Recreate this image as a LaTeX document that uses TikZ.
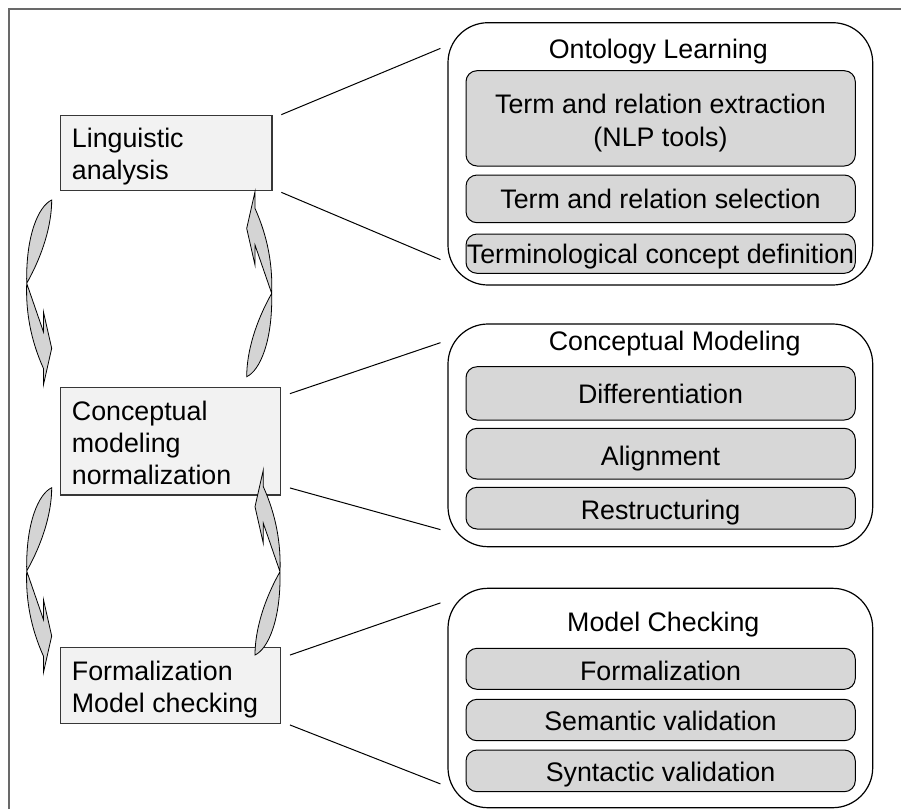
\documentclass[tikz,border=0pt]{standalone}
\usepackage{fontspec}
\setmainfont{Liberation Sans}
\definecolor{framegray}{RGB}{105,105,105}
\definecolor{stagefill}{RGB}{242,242,242}
\definecolor{stageedge}{RGB}{55,55,55}
\definecolor{taskfill}{RGB}{215,215,215}
\definecolor{arrowfill}{RGB}{212,212,212}
\begin{document}
\begin{tikzpicture}[x=1pt,y=-1pt,
  every node/.style={font=\fontsize{26.8}{32}\selectfont},
  stagebox/.style={draw=stageedge, line width=1.3pt, fill=stagefill, inner sep=0pt},
  groupbox/.style={draw=black, line width=1.2pt, fill=white, rounded corners=40pt, inner sep=0pt,
    minimum width=424.7pt},
  taskbox/.style={draw=black, line width=1pt, fill=taskfill, rounded corners=11pt, inner sep=0pt,
    minimum width=389.3pt},
  txt/.style={inner sep=0pt, anchor=base},
  ltxt/.style={inner sep=0pt, anchor=base west},
  conn/.style={draw=black, line width=1pt},
  arrowshape/.style={draw=black, line width=0.8pt, fill=arrowfill, line join=miter},
  bendarrow/.pic={
    \path[arrowshape] (0,0) .. controls (-13,6) and (-26,35) .. (-25,83.3)
      -- (-8.3,131.7) -- (-8.3,111.7) -- (0,148.3) -- (-8.3,185) -- (-8.3,168.3)
      .. controls (-21,140) and (-26,112) .. (-25,83.3)
      .. controls (-9,55) and (0,25) .. (0,0) -- cycle;
  }
]
\useasboundingbox (0,0) rectangle (901,809);

% page frame (top and left edges only)
\draw[framegray, line width=1.8pt] (9.3,809) -- (9.3,9) -- (901,9);

% stages on the left
\node[stagebox, minimum width=211.3pt, minimum height=75.4pt] (ling) at (166.35,153) {};
\node[stagebox, minimum width=219.6pt, minimum height=107.7pt] (conc) at (170.5,441.15) {};
\node[stagebox, minimum width=219.6pt, minimum height=75.6pt] (form) at (170.5,685.5) {};
\node[ltxt] (lingtxt) at (71.7,147.3) {\begin{tabular}[t]{@{}l@{}}Linguistic\\analysis\end{tabular}};
\node[ltxt] (conctxt) at (71.7,420) {\begin{tabular}[t]{@{}l@{}}Conceptual\\modeling\\normalization\end{tabular}};
\node[ltxt] (formtxt) at (71.7,680.7) {\begin{tabular}[t]{@{}l@{}}Formalization\\Model checking\end{tabular}};

% groups of tasks on the right
\node[groupbox, minimum height=262.3pt] (onto) at (660.35,153.85) {};
\node[groupbox, minimum height=222.7pt] (cm) at (660.35,435.35) {};
\node[groupbox, minimum height=219.4pt] (mc) at (660.35,698) {};

\node[txt] (ontotitle) at (658.3,58.5) {Ontology Learning};
\node[taskbox, minimum height=95.3pt] (extr) at (660.65,118.35) {};
\node[taskbox, minimum height=47.7pt] (sel) at (660.65,198.85) {};
\node[taskbox, minimum height=39.3pt] (defn) at (660.65,253.65) {};
\node[txt] (extrtxt) at (660.5,113.3) {\begin{tabular}[t]{@{}c@{}}Term and relation extraction\\[1.4pt](NLP tools)\end{tabular}};
\node[txt] (seltxt) at (660.5,208.3) {Term and relation selection};
\node[txt] (defntxt) at (660.5,263.3) {Terminological concept definition};

\node[txt] (cmtitle) at (674.7,350) {Conceptual Modeling};
\node[taskbox, minimum height=53.3pt] (diff) at (660.65,393.35) {};
\node[taskbox, minimum height=50.7pt] (align) at (660.65,453.65) {};
\node[taskbox, minimum height=41.7pt] (restr) at (660.65,508.15) {};
\node[txt] (difftxt) at (660.5,403.3) {Differentiation};
\node[txt] (aligntxt) at (660.5,465) {Alignment};
\node[txt] (restrtxt) at (660.5,519) {Restructuring};

\node[txt] (mctitle) at (663.3,631.7) {Model Checking};
\node[taskbox, minimum height=41pt] (fml) at (660.65,668.8) {};
\node[taskbox, minimum height=41.4pt] (sem) at (660.65,720) {};
\node[taskbox, minimum height=41.7pt] (syn) at (660.65,770.85) {};
\node[txt] (fmltxt) at (660.5,680.7) {Formalization};
\node[txt] (semtxt) at (660.5,730.7) {Semantic validation};
\node[txt] (syntxt) at (660.5,781.7) {Syntactic validation};

% zoom lines from each stage to its group
\draw[conn] ([xshift=8.7pt]ling.north east) -- ([shift={(-7pt,-26.3pt)}]onto.north west);
\draw[conn] ([shift={(8.7pt,-1pt)}]ling.south east) -- ([shift={(-7pt,26pt)}]onto.south west);
\draw[conn] ([shift={(9pt,-7pt)}]conc.north east) -- ([shift={(-7pt,-19.3pt)}]cm.north west);
\draw[conn] ([shift={(9pt,7.7pt)}]conc.south east) -- ([shift={(-7pt,17.7pt)}]cm.south west);
\draw[conn] ([shift={(9pt,-8pt)}]form.north east) -- ([shift={(-7pt,-15.2pt)}]mc.north west);
\draw[conn] ([shift={(9pt,-1pt)}]form.south east) -- ([shift={(-7pt,24.4pt)}]mc.south west);

% curved arrows between the stages
\pic at (51.7,200) {bendarrow};
\pic at (51.7,487.7) {bendarrow};
\pic[rotate=180] at (246.7,376.7) {bendarrow};
\pic[rotate=180] at (255,655) {bendarrow};
\end{tikzpicture}
\end{document}
